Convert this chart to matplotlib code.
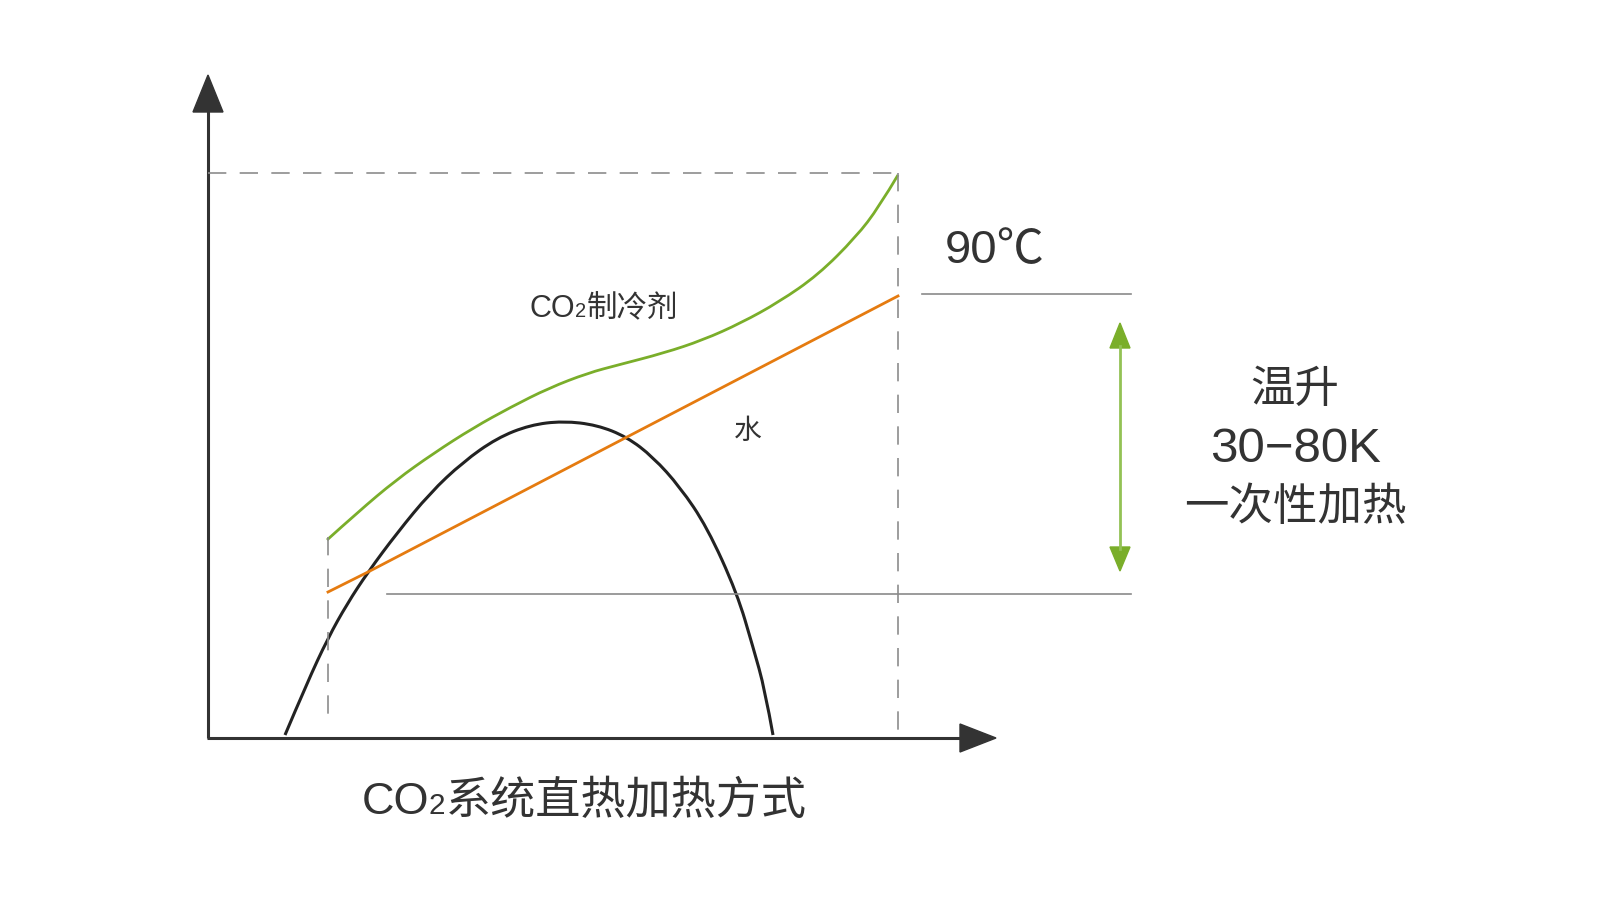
import matplotlib.pyplot as plt
from matplotlib.patches import Polygon, PathPatch
from matplotlib.path import Path
from matplotlib.offsetbox import TextArea, HPacker, AnnotationBbox

plt.rcParams['font.family'] = ['Liberation Sans', 'Noto Sans CJK SC', 'DejaVu Sans']

# curves (canvas units, y grows downwards)
co2_x = [327, 358, 396, 434, 473, 511, 549, 588, 618, 664, 703, 741, 779, 818, 856, 879, 898]
co2_y = [540, 512, 480, 453, 428, 407, 388, 373, 365, 353, 340, 323, 302, 275, 237, 207, 175]

water_x = [328, 368, 627, 898]
water_y = [592, 572, 437, 296]

dome_x = [285, 307, 328, 347, 368, 397, 430, 463, 497, 530, 563, 597, 627, 653, 680, 707, 737, 753, 765, 773]
dome_y = [735, 683, 638, 604, 572, 533, 493, 462, 438, 425, 421, 425, 437, 457, 487, 527, 593, 647, 690, 735]

# labels
co2_label = ['CO', '2', '制冷剂']
water_label = '水'
temp_label = '90℃'
rise_lines = ['温升', '30−80K', '一次性加热']
rise_sizes = [32, 35.5, 32]
title_parts = ['CO', '2', '系统直热加热方式']

text_c = '#333333'
axis_c = '#333333'
dash_c = '#8c8c8c'
green = '#7aae2a'
orange = '#e57b10'

fig = plt.figure(figsize=(16, 9), dpi=100)
ax = fig.add_axes([0, 0, 1, 1])
ax.set_xlim(0, 1600)
ax.set_ylim(900, 0)
ax.axis('off')


def smooth_curve(xs, ys, color, lw):
    # quadratic b-spline through the midpoints, drawn by matplotlib's Path
    pts = list(zip(xs, ys))
    verts = [pts[0]]
    codes = [Path.MOVETO]
    for i in range(1, len(pts) - 1):
        mid = ((pts[i][0] + pts[i + 1][0]) / 2, (pts[i][1] + pts[i + 1][1]) / 2)
        if i == len(pts) - 2:
            mid = pts[-1]
        verts += [pts[i], mid]
        codes += [Path.CURVE3, Path.CURVE3]
    ax.add_patch(PathPatch(Path(verts, codes), facecolor='none', edgecolor=color,
                           lw=lw, capstyle='butt'))


# axes with arrow heads
ax.plot([208, 208], [738, 110], color=axis_c, lw=2.2, solid_capstyle='butt')
ax.plot([207, 962], [738, 738], color=axis_c, lw=2.2, solid_capstyle='butt')
ax.add_patch(Polygon([(193, 112), (223, 112), (208, 75)], closed=True, color=axis_c))
ax.add_patch(Polygon([(960, 724), (960, 752), (996, 738)], closed=True, color=axis_c))

# dashed guides
dash = (0, (11, 8))
ax.plot([208, 898], [173, 173], color=dash_c, lw=1.2, linestyle=dash)
ax.plot([898, 898], [173, 738], color=dash_c, lw=1.2, linestyle=dash)
ax.plot([328, 328], [537, 724], color=dash_c, lw=1.2, linestyle=dash)

# gray reference lines
ax.plot([922, 1131], [294, 294], color='#8a8a8a', lw=1.2)
ax.plot([387, 1131], [594, 594], color='#8a8a8a', lw=1.2)

# curves
smooth_curve(dome_x, dome_y, '#222222', 2.2)
ax.plot(water_x, water_y, color=orange, lw=2.0, solid_joinstyle='round')
smooth_curve(co2_x, co2_y, green, 2.0)

# green double arrow
ax.plot([1120, 1120], [346, 549], color='#93c255', lw=2.0)
ax.add_patch(Polygon([(1110, 348), (1130, 348), (1120, 323)], closed=True, color=green))
ax.add_patch(Polygon([(1110, 547), (1130, 547), (1120, 571)], closed=True, color=green))


def sub_text(parts, size, xy):
    boxes = [TextArea(parts[0], textprops=dict(size=size, color=text_c)),
             TextArea(parts[1], textprops=dict(size=size * 0.66, color=text_c)),
             TextArea(parts[2], textprops=dict(size=size, color=text_c))]
    pack = HPacker(children=boxes, align='baseline', pad=0, sep=0)
    ab = AnnotationBbox(pack, xy, xycoords='data', frameon=False, box_alignment=(0.5, 0.5))
    ax.add_artist(ab)


sub_text(co2_label, 22, (604, 309))
sub_text(title_parts, 32.5, (584, 802))

ax.text(748, 432, water_label, size=20, color=text_c, ha='center', va='center')
ax.text(995, 251, temp_label, size=34, color=text_c, ha='center', va='center')

for i, line in enumerate(rise_lines):
    ax.text(1295, 390 + i * 59, line, size=rise_sizes[i], color=text_c, ha='center', va='center')

fig.savefig('out.png', dpi=100)
